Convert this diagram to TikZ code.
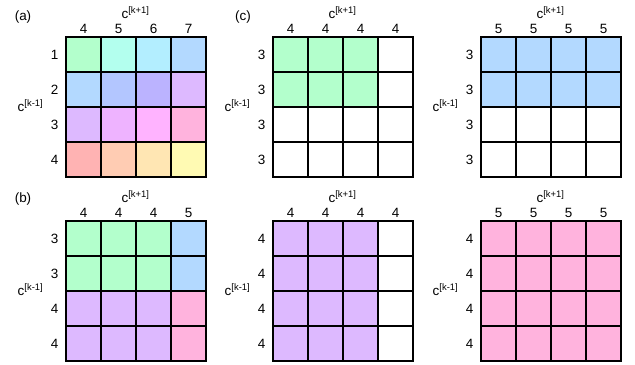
\documentclass[tikz,border=0pt]{standalone}
\usepackage{fontspec}
\setmainfont{Liberation Sans}
\definecolor{ga}{HTML}{B3FFCC}
\definecolor{cya}{HTML}{B3FFEE}
\definecolor{cyb}{HTML}{B3EEFF}
\definecolor{bla}{HTML}{B3D9FF}
\definecolor{blb}{HTML}{B3C6FF}
\definecolor{blc}{HTML}{BBB3FF}
\definecolor{pua}{HTML}{DDB9FF}
\definecolor{pub}{HTML}{EEB3FF}
\definecolor{puc}{HTML}{FFB3FF}
\definecolor{pka}{HTML}{FFB3DD}
\definecolor{rda}{HTML}{FFB3B3}
\definecolor{ora}{HTML}{FFCCB3}
\definecolor{yla}{HTML}{FFE6B3}
\definecolor{ylb}{HTML}{FFFAB3}
\tikzset{
  cell/.style={minimum size=35bp, inner sep=0pt, outer sep=0pt},
  edge/.style={draw=black, line width=1.6bp},
  lab/.style={font=\fontsize{13.5}{15}\selectfont, inner sep=0pt},
  axis/.style={font=\fontsize{13.5}{15}\selectfont, inner sep=0pt},
}
\newcommand\mygrid[6]{%
  \foreach \cl [count=\i from 0] in {#6} {
    \pgfmathtruncatemacro\rr{div(\i,4)}
    \pgfmathtruncatemacro\cc{mod(\i,4)}
    \node[cell, fill=\cl] (#1-\rr-\cc) at ({#2+(\cc+0.5)*35},{#3+(\rr+0.5)*35}) {};
  }
  \foreach \rr in {0,...,3} {
    \foreach \cc in {0,...,3} {
      \draw[edge] (#1-\rr-\cc.north west) rectangle (#1-\rr-\cc.south east);
    }
  }
  \foreach \t [count=\i from 0] in {#4} {
    \node[lab] (#1-col\i) at ({#2+(\i+0.5)*35},{#3-8.5}) {\t};
  }
  \foreach \t [count=\i from 0] in {#5} {
    \node[lab] (#1-row\i) at ({#2-11.5},{#3+(\i+0.5)*35}) {\t};
  }
  \node[axis] (#1-top) at ({#2+69.5},{#3-24.5}) {c\textsuperscript{[k+1]}};
  \node[axis] (#1-left) at ({#2-35.5},{#3+69}) {c\textsuperscript{[k-1]}};
}
\begin{document}
\begin{tikzpicture}[x=1bp,y=-1bp]
\fill[white] (0,0) rectangle (635,364);
\useasboundingbox (0,0) rectangle (635,364);
\node[lab] (la) at (23,17) {(a)};
\node[lab] (lb) at (23,199) {(b)};
\node[lab] (lc) at (243,17) {(c)};
\mygrid{A}{66}{37}{4,5,6,7}{1,2,3,4}{ga,cya,cyb,bla,bla,blb,blc,pua,pua,pub,puc,pka,rda,ora,yla,ylb}
\mygrid{C}{273}{37}{4,4,4,4}{3,3,3,3}{ga,ga,ga,white,ga,ga,ga,white,white,white,white,white,white,white,white,white}
\mygrid{D}{481}{37}{5,5,5,5}{3,3,3,3}{bla,bla,bla,bla,bla,bla,bla,bla,white,white,white,white,white,white,white,white}
\mygrid{B}{66}{221}{4,4,4,5}{3,3,4,4}{ga,ga,ga,bla,ga,ga,ga,bla,pua,pua,pua,pka,pua,pua,pua,pka}
\mygrid{E}{273}{221}{4,4,4,4}{4,4,4,4}{pua,pua,pua,white,pua,pua,pua,white,pua,pua,pua,white,pua,pua,pua,white}
\mygrid{F}{481}{221}{5,5,5,5}{4,4,4,4}{pka,pka,pka,pka,pka,pka,pka,pka,pka,pka,pka,pka,pka,pka,pka,pka}
\end{tikzpicture}
\end{document}
